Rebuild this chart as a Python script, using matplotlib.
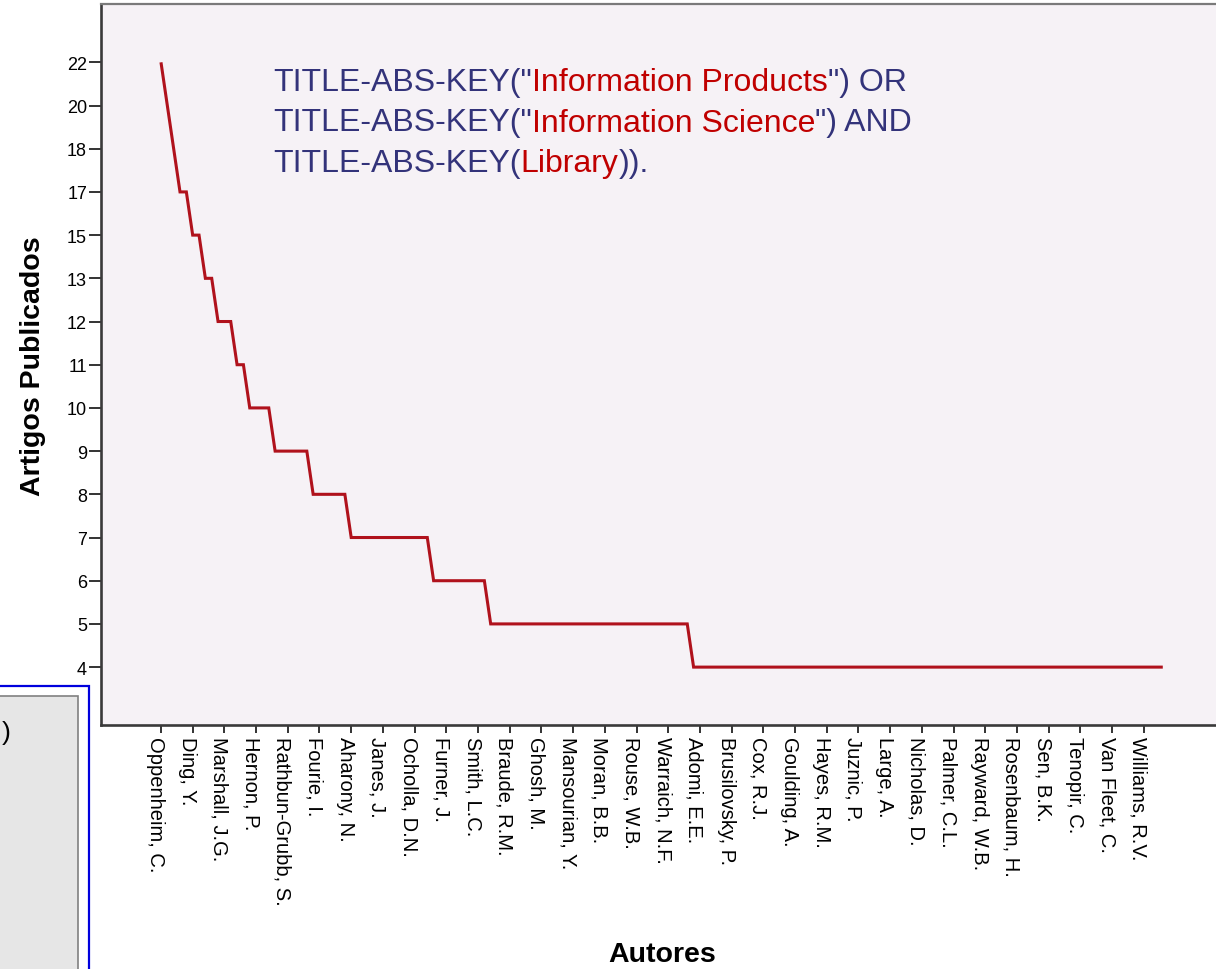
import matplotlib
matplotlib.use('Agg')
import matplotlib.pyplot as plt
from matplotlib.patches import Rectangle
import matplotlib.transforms as mtransforms

plt.rcParams['font.family'] = ['Liberation Sans', 'DejaVu Sans']

W, H, DPI = 1216, 970, 100

# ordinal y-axis levels (as shown on the chart, equally spaced)
y_levels = [4, 5, 6, 7, 8, 9, 10, 11, 12, 13, 15, 17, 18, 20, 22]

# articles per author, in the chart's order (159 authors)
articles = [
    22, 20, 18, 17, 17, 15, 15, 13, 13, 12, 12, 12, 11, 11,
    10, 10, 10, 10,
    9, 9, 9, 9, 9, 9,
    8, 8, 8, 8, 8, 8,
    7, 7, 7, 7, 7, 7, 7, 7, 7, 7, 7, 7, 7,
    6, 6, 6, 6, 6, 6, 6, 6, 6,
    5, 5, 5, 5, 5, 5, 5, 5, 5, 5, 5, 5, 5, 5, 5, 5,
    5, 5, 5, 5, 5, 5, 5, 5, 5, 5, 5, 5, 5, 5, 5, 5,
    4, 4, 4, 4, 4, 4, 4, 4, 4, 4, 4, 4, 4, 4, 4, 4, 4, 4, 4, 4,
    4, 4, 4, 4, 4, 4, 4, 4, 4, 4, 4, 4, 4, 4, 4, 4, 4, 4, 4, 4,
    4, 4, 4, 4, 4, 4, 4, 4, 4, 4, 4, 4, 4, 4, 4, 4, 4, 4, 4, 4,
    4, 4, 4, 4, 4, 4, 4, 4, 4, 4, 4, 4, 4, 4, 4,
]

# authors whose names are shown (every 5th author)
tick_authors = [
    "Oppenheim, C.", "Ding, Y.", "Marshall, J.G.", "Hernon, P.",
    "Rathbun-Grubb, S.", "Fourie, I.", "Aharony, N.", "Janes, J.",
    "Ocholla, D.N.", "Furner, J.", "Smith, L.C.", "Braude, R.M.",
    "Ghosh, M.", "Mansourian, Y.", "Moran, B.B.", "Rouse, W.B.",
    "Warraich, N.F.", "Adomi, E.E.", "Brusilovsky, P.", "Cox, R.J.",
    "Goulding, A.", "Hayes, R.M.", "Juznic, P.", "Large, A.",
    "Nicholas, D.", "Palmer, C.L.", "Rayward, W.B.", "Rosenbaum, H.",
    "Sen, B.K.", "Tenopir, C.", "Van Fleet, C.", "Williams, R.V.",
]
label_step = 5

x_title = "Autores"
y_title = "Artigos Publicados"
query_lines = [
    [("TITLE-ABS-KEY(\"", "navy"), ("Information Products", "red"), ("\") OR", "navy")],
    [("TITLE-ABS-KEY(\"", "navy"), ("Information Science", "red"), ("\") AND", "navy")],
    [("TITLE-ABS-KEY(", "navy"), ("Library", "red"), (")).", "navy")],
]
colors = {"navy": "#33337A", "red": "#C00000"}


def fx(px):
    return px / W


def fy(py):
    return 1 - py / H


fig = plt.figure(figsize=(W / DPI, H / DPI), dpi=DPI)
fig.patch.set_facecolor('white')

# partial box at bottom-left
fig.patches.append(Rectangle((fx(-20), fy(1000)), (89 + 20) / W, (1000 - 687) / H,
                             transform=fig.transFigure, facecolor='white',
                             edgecolor='#0000DD', linewidth=1.6, zorder=0))
fig.patches.append(Rectangle((fx(-20), fy(1000)), (78 + 20) / W, (1000 - 697) / H,
                             transform=fig.transFigure, facecolor='#E6E6E6',
                             edgecolor='#808080', linewidth=1.2, zorder=0))
fig.text(fx(2), fy(733), ")", fontsize=19, color='black', ha='left', va='center')

ax = fig.add_axes([fx(101), fy(726), (1230 - 101) / W, (726 - 5) / H])
ax.set_facecolor('#F6F2F6')

ypos = [y_levels.index(v) for v in articles]
ax.plot(range(len(articles)), ypos, color='#B0121C', lw=2.2,
        solid_joinstyle='miter', solid_capstyle='butt')

ax.set_xlim(-9.46, 168.6)
ax.set_ylim(-1.34, 15.35)

ax.set_yticks(range(len(y_levels)))
ax.set_yticklabels([str(v) for v in y_levels], fontsize=13)
ax.set_xticks(range(0, len(articles) - 1, label_step))
ax.set_xticklabels(tick_authors, rotation=-90, ha='center', va='top', fontsize=14.5)
ax.tick_params(axis='y', length=9, width=1.4, color='#333333', pad=1)
ax.tick_params(axis='x', length=6, width=1.4, color='#333333', pad=2)
offset = mtransforms.ScaledTranslation(-0.055, 0, fig.dpi_scale_trans)
for lbl in ax.get_xticklabels():
    lbl.set_transform(lbl.get_transform() + offset)

for s in ('left', 'bottom'):
    ax.spines[s].set_color('#3A3A3A')
    ax.spines[s].set_linewidth(1.9)
ax.spines['top'].set_color('#7A7A7A')
ax.spines['top'].set_linewidth(1.6)
ax.spines['right'].set_visible(False)

fig.text(fx(33), fy(366), y_title, rotation=90, ha='center', va='center',
         fontsize=20.5, fontweight='bold')
fig.text(fx(662), fy(955), x_title, ha='center', va='center',
         fontsize=20.5, fontweight='bold')

renderer = fig.canvas.get_renderer()
baselines = [91, 131.5, 172]
for line, base in zip(query_lines, baselines):
    x = 273
    for txt, c in line:
        t = fig.text(fx(x), fy(base), txt, color=colors[c], fontsize=23,
                     ha='left', va='baseline')
        ext = t.get_window_extent(renderer)
        x = ext.x1

fig.savefig('out.png', dpi=DPI, facecolor='white')
